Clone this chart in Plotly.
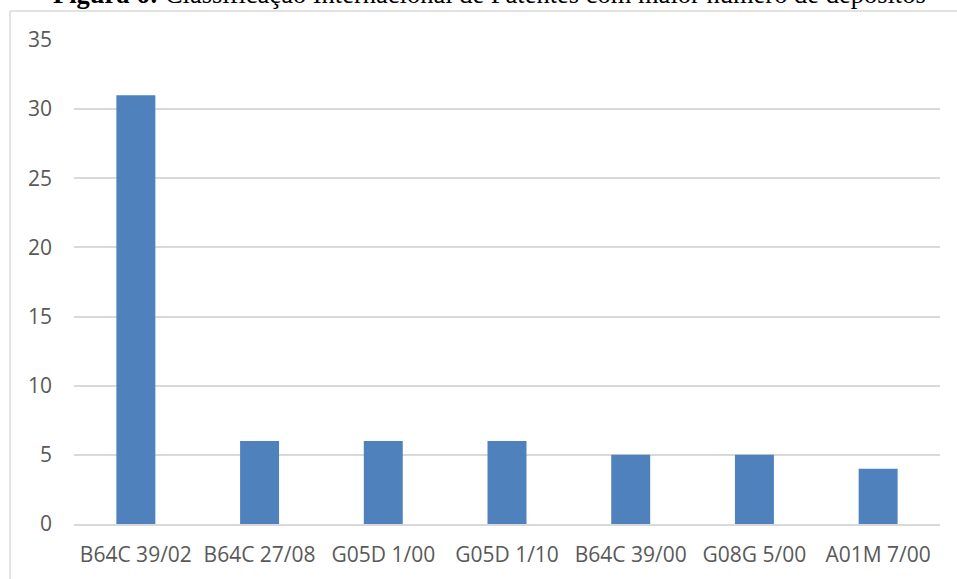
import plotly.graph_objects as go

# Patent classification codes and number of filings
categories = ["B64C 39/02", "B64C 27/08", "G05D 1/00", "G05D 1/10",
              "B64C 39/00", "G08G 5/00", "A01M 7/00"]
filings = [31, 6, 6, 6, 5, 5, 4]
y_ticks = [0, 5, 10, 15, 20, 25, 30, 35]

W, H = 957, 579
L, R, T, B = 74, 17, 40, 55
pw, ph = W - L - R, H - T - B

def px_x(x):
    return (x - L) / pw

def px_y(y):
    return (H - B - y) / ph

fig = go.Figure(
    go.Bar(
        x=categories,
        y=filings,
        marker=dict(color="#4f81bd", line=dict(width=0)),
        width=0.315,
    )
)

grid = "#d9d9d9"
tick_font = dict(family="Open Sans, sans-serif", size=21, color="#595959")

fig.update_layout(
    width=W,
    height=H,
    margin=dict(l=L, r=R, t=T, b=B),
    paper_bgcolor="white",
    plot_bgcolor="white",
    showlegend=False,
    xaxis=dict(
        showgrid=False,
        showline=True,
        linecolor=grid,
        linewidth=1.5,
        ticks="",
        tickfont=tick_font,
        ticklabelstandoff=11,
    ),
    yaxis=dict(
        range=[0, 35],
        tickvals=y_ticks,
        showgrid=True,
        gridcolor=grid,
        gridwidth=1.5,
        zeroline=False,
        showline=False,
        ticks="",
        tickfont=tick_font,
        ticklabelstandoff=21,
    ),
    font=dict(family="Open Sans, sans-serif"),
)

# Outer frame: left and top edges
fig.add_shape(type="line", xref="paper", yref="paper",
              x0=px_x(10), x1=px_x(10), y0=px_y(11), y1=px_y(H + 5),
              line=dict(color=grid, width=1.5))
fig.add_shape(type="line", xref="paper", yref="paper",
              x0=px_x(10), x1=px_x(W + 5), y0=px_y(11), y1=px_y(11),
              line=dict(color=grid, width=1.5))

# Figure caption above the frame
fig.add_annotation(
    xref="paper", yref="paper",
    x=px_x(489), y=px_y(11),
    xanchor="center", yanchor="bottom",
    showarrow=False,
    text="<b>Figura 6:</b> Classificação Internacional de Patentes com maior número de depósitos",
    font=dict(family="Liberation Serif, Times New Roman, serif", size=26.5, color="black"),
)

fig.write_html("out.html")
